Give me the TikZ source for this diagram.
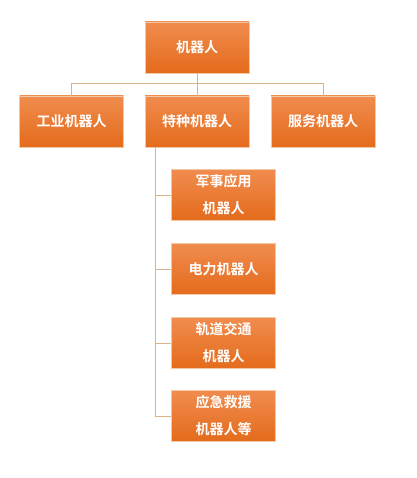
\documentclass[tikz,border=0pt]{standalone}
\usepackage{fontspec}
\newfontfamily\cjk{Noto Sans CJK SC}[BoldFont={Noto Sans CJK SC Bold}]
\usetikzlibrary{positioning}
\definecolor{otop}{HTML}{F08C4E}
\definecolor{obot}{HTML}{E46B1C}
\definecolor{oedge}{HTML}{F2C9A8}
\definecolor{link}{HTML}{D7B48E}
\tikzset{
  obox/.style={draw=oedge, line width=0.6pt, top color=otop, bottom color=obot,
    minimum width=104pt, minimum height=51pt, inner sep=0pt, text=white,
    font=\cjk\bfseries\fontsize{14pt}{27pt}\selectfont, align=center},
  link/.style={draw=link, line width=1pt}
}
\begin{document}
\begin{tikzpicture}[x=1pt,y=1pt]
\useasboundingbox (0,0) rectangle (416,-478);
\fill[white] (0,0) rectangle (416,-478);
\node[obox] (root) at (197,-47.5) {机器人};
\node[obox] (ind) at (71.5,-121.5) {工业机器人};
\node[obox] (spe) at (197,-121.5) {特种机器人};
\node[obox] (ser) at (323,-121.5) {服务机器人};
\node[obox] (m) at (223.5,-195) {军事应用\\机器人};
\node[obox] (p) at (223.5,-269) {电力机器人};
\node[obox] (r) at (223.5,-343) {轨道交通\\机器人};
\node[obox] (e) at (223.5,-416) {应急救援\\机器人等};
\coordinate (hy) at (0,-84);
\coordinate (vx) at (155,0);
\draw[link] (root.south) -- (root.south |- hy);
\draw[link] (ind.north) -- (ind.north |- hy) -- (ser.north |- hy) -- (ser.north);
\draw[link] (spe.north) -- (spe.north |- hy);
\draw[link] (vx |- spe.south) -- (vx |- e.west) -- (e.west);
\draw[link] (vx |- m.west) -- (m.west);
\draw[link] (vx |- p.west) -- (p.west);
\draw[link] (vx |- r.west) -- (r.west);
\end{tikzpicture}
\end{document}
